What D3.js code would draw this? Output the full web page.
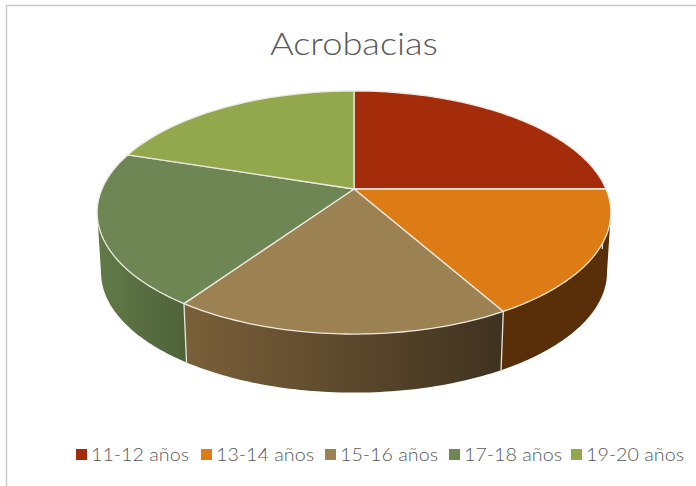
<!DOCTYPE html>
<html>
<head>
<meta charset="utf-8">
<title>Acrobacias</title>
<script src="https://d3js.org/d3.v7.min.js"></script>
<style>
  html, body { margin: 0; padding: 0; background: #fff; }
  svg { display: block; }
  text { font-family: Lato, "Open Sans", sans-serif; font-weight: 300; fill: #595959; }
</style>
</head>
<body>
<div id="chart"></div>
<script>
var categories = ["11-12 años", "13-14 años", "15-16 años", "17-18 años", "19-20 años"];
var values = [25, 16.8, 17.8, 20.4, 20];
var colors = ["#a52c0b", "#dd7b15", "#9c8152", "#6e8653", "#93a84c"];
var wallLeft = ["#7a1f06", "#582f08", "#7a6039", "#627a49", "#6e8038"];
var wallRight = ["#7a1f06", "#582f08", "#3f3220", "#4f6339", "#6e8038"];

var width = 696, height = 486;

var svg = d3.select("#chart").append("svg")
    .attr("width", width)
    .attr("height", height);

var defs = svg.append("defs");

// chart frame, only top and left show in the crop
svg.append("path")
    .attr("d", "M6.5," + height + "V5.5H" + width)
    .attr("fill", "none")
    .attr("stroke", "#c9c9c9")
    .attr("stroke-width", 1.5);

svg.append("text")
    .attr("x", 354)
    .attr("y", 55)
    .attr("text-anchor", "middle")
    .attr("font-size", 32)
    .attr("textLength", 168)
    .attr("lengthAdjust", "spacingAndGlyphs")
    .text("Acrobacias");

// pie is tilted with perspective, so a circle goes through this projection
var cx = 354, cy = 189, rx = 252, ry = 117, k = -0.1934;
var depth = 60, shrink = 0.985;

// where the rim reaches its widest x, the walls are only visible between these
var rightEdge = Math.acos(k), leftEdge = 2 * Math.PI - rightEdge;

function topPoint(a) {
  var u = Math.sin(a), v = -Math.cos(a);
  var w = 1 + k * v;
  return [cx + rx * u / w, cy + ry * v / w];
}
function bottomPoint(a) {
  var p = topPoint(a);
  return [cx + (p[0] - cx) * shrink, cy + depth + (p[1] - cy) * 0.99];
}
function arcPoints(a0, a1, fn) {
  var n = 60;
  return d3.range(n + 1).map(function(i) {
    return fn(a0 + (a1 - a0) * i / n);
  });
}

var pie = d3.pie().sort(null)(values);
var line = d3.line();

// side walls first, each one cut to the visible part of its arc
var walls = pie.map(function(d, i) {
  return { index: i, a0: Math.max(d.startAngle, rightEdge), a1: Math.min(d.endAngle, leftEdge) };
}).filter(function(w) { return w.a1 > w.a0; });

svg.append("g").selectAll("path")
    .data(walls)
    .enter()
    .append("path")
    .attr("d", function(w) {
      return line(arcPoints(w.a0, w.a1, topPoint).concat(arcPoints(w.a0, w.a1, bottomPoint).reverse())) + "Z";
    })
    .attr("fill", function(w) {
      var xs = arcPoints(w.a0, w.a1, topPoint).map(function(p) { return p[0]; });
      var g = defs.append("linearGradient")
          .attr("id", "wall" + w.index)
          .attr("gradientUnits", "userSpaceOnUse")
          .attr("x1", d3.min(xs)).attr("x2", d3.max(xs))
          .attr("y1", 0).attr("y2", 0);
      g.append("stop").attr("offset", 0).attr("stop-color", wallLeft[w.index]);
      g.append("stop").attr("offset", 1).attr("stop-color", wallRight[w.index]);
      return "url(#wall" + w.index + ")";
    });

// edges between the walls
svg.append("g").selectAll("line")
    .data(pie)
    .enter()
    .append("line")
    .attr("x1", function(d) { return topPoint(d.startAngle)[0]; })
    .attr("y1", function(d) { return topPoint(d.startAngle)[1]; })
    .attr("x2", function(d) { return bottomPoint(d.startAngle)[0]; })
    .attr("y2", function(d) { return bottomPoint(d.startAngle)[1]; })
    .attr("stroke", "#e6e3da")
    .attr("stroke-width", 1.3);

// top face
svg.append("g").selectAll("path")
    .data(pie)
    .enter()
    .append("path")
    .attr("d", function(d) {
      return line([[cx, cy]].concat(arcPoints(d.startAngle, d.endAngle, topPoint))) + "Z";
    })
    .attr("fill", function(d, i) { return colors[i]; })
    .attr("stroke", "#ebe8df")
    .attr("stroke-width", 1.3)
    .attr("stroke-linejoin", "round");

// legend
var legendX = d3.scaleOrdinal().domain(categories).range([76, 201, 325, 449, 571]);

var legend = svg.append("g").selectAll("g")
    .data(categories)
    .enter()
    .append("g")
    .attr("transform", function(d) { return "translate(" + legendX(d) + ",449)"; });

legend.append("rect")
    .attr("width", 11)
    .attr("height", 11)
    .attr("fill", function(d, i) { return colors[i]; });

legend.append("text")
    .attr("x", 15)
    .attr("y", 12)
    .attr("font-size", 17.5)
    .attr("textLength", 98)
    .attr("lengthAdjust", "spacingAndGlyphs")
    .text(function(d) { return d; });
</script>
</body>
</html>
